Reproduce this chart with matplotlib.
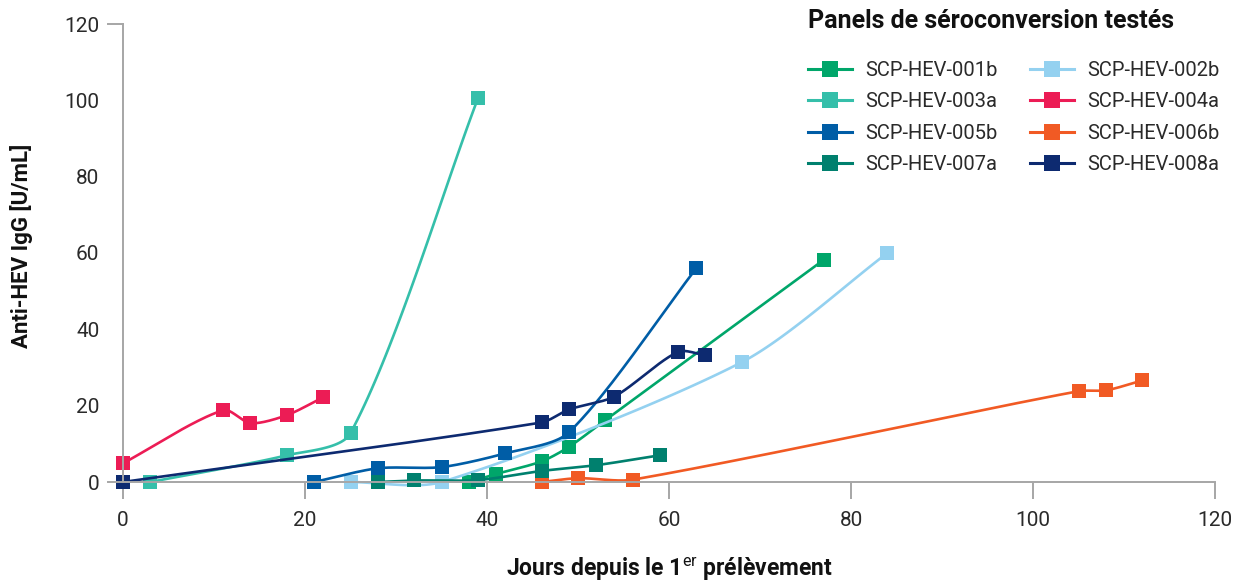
import numpy as np
import matplotlib
matplotlib.use("Agg")
import matplotlib.pyplot as plt
from matplotlib.lines import Line2D

plt.rcParams['font.family'] = ['Roboto', 'DejaVu Sans']
plt.rcParams['mathtext.fontset'] = 'custom'
plt.rcParams['mathtext.bf'] = 'Roboto:bold'
plt.rcParams['mathtext.rm'] = 'Roboto'

names = ['SCP-HEV-001b', 'SCP-HEV-002b', 'SCP-HEV-003a', 'SCP-HEV-004a',
         'SCP-HEV-005b', 'SCP-HEV-006b', 'SCP-HEV-007a', 'SCP-HEV-008a']
colors = ['#00A66A', '#94D1F0', '#35BFAA', '#EC1C55',
          '#005DA6', '#F15A24', '#00806E', '#0D2A70']

days_001b = [38, 41, 46, 49, 53, 77]
igg_001b = [0, 2.1, 5.4, 9.2, 16.2, 58.2]
days_002b = [25, 35, 68, 84]
igg_002b = [0, 0, 31.4, 60]
days_003a = [3, 18, 25, 39]
igg_003a = [0, 7.0, 12.8, 100.5]
days_004a = [0, 11, 14, 18, 22]
igg_004a = [4.9, 18.8, 15.4, 17.5, 22.2]
days_005b = [21, 28, 35, 42, 49, 63]
igg_005b = [0, 3.6, 3.9, 7.5, 13.0, 56.0]
days_006b = [46, 50, 56, 105, 108, 112]
igg_006b = [0, 1.0, 0.6, 23.8, 24.0, 26.6]
days_007a = [28, 32, 39, 46, 52, 59]
igg_007a = [0, 0.4, 0.5, 2.9, 4.4, 7.0]
days_008a = [0, 46, 49, 54, 61, 64]
igg_008a = [0, 15.6, 19.0, 22.4, 34.1, 33.2]

series = [(days_001b, igg_001b), (days_002b, igg_002b), (days_003a, igg_003a),
          (days_004a, igg_004a), (days_005b, igg_005b), (days_006b, igg_006b),
          (days_007a, igg_007a), (days_008a, igg_008a)]

# px per data unit, used so the smoothing behaves like it does on screen
SX, SY = 9.1, 3.817


def smooth(xs, ys, k=0.27, n=40):
    pts = np.column_stack([np.array(xs) * SX, np.array(ys) * SY]).astype(float)
    out = []
    for i in range(len(pts) - 1):
        p0 = pts[i - 1] if i > 0 else pts[i]
        p1 = pts[i]
        p2 = pts[i + 1]
        p3 = pts[i + 2] if i + 2 < len(pts) else pts[i + 1]
        L = np.hypot(*(p2 - p1))
        d1 = (p2 - p0) / np.hypot(*(p2 - p0))
        d2 = (p3 - p1) / np.hypot(*(p3 - p1))
        c1 = p1 + d1 * L * k
        c2 = p2 - d2 * L * k
        t = np.linspace(0, 1, n)[:, None]
        out.append((1 - t)**3 * p1 + 3 * (1 - t)**2 * t * c1 + 3 * (1 - t) * t**2 * c2 + t**3 * p2)
    sm = np.vstack(out)
    return sm[:, 0] / SX, sm[:, 1] / SY


grey = '#A6A6A6'
txt = '#2a2a2a'
dark = '#111111'

fig = plt.figure(figsize=(12.42, 5.82), dpi=100)
ax = fig.add_axes([108 / 1242, 100 / 582, 1107 / 1242, 458 / 582])

for (xs, ys), c in zip(series, colors):
    sx, sy = smooth(xs, ys)
    ax.plot(sx, sy, color=c, lw=1.9, clip_on=False, solid_capstyle='round')
    ax.plot(xs, ys, ls='none', marker='s', ms=9.5, mew=0, color=c, clip_on=False)

ax.set_xlim(-1.65, 120)
ax.set_ylim(0, 120)
ax.spines['top'].set_visible(False)
ax.spines['right'].set_visible(False)
ax.spines['left'].set_position(('data', 0))
for s in ['left', 'bottom']:
    ax.spines[s].set_color(grey)
    ax.spines[s].set_linewidth(1.4)
ax.set_xticks(range(0, 121, 20))
ax.set_yticks(range(0, 121, 20))
ax.tick_params(axis='x', direction='out', length=12, width=1.4, color=grey, pad=9,
               labelsize=15, labelcolor=txt)
ax.tick_params(axis='y', length=0, pad=17, labelsize=15, labelcolor=txt)
ax.plot([-1.65, 0], [120, 120], color=grey, lw=1.4, clip_on=False)

fig.text(22 / 1242, 1 - 246 / 582, 'Anti-HEV IgG [U/mL]', rotation=90, ha='center', va='center',
         fontsize=16, fontweight='bold', color=dark)
fig.text(669 / 1242, 1 - 569 / 582, r'Jours depuis le 1$^{\mathrm{er}}$ prélèvement',
         ha='center', va='center', fontsize=16.5, fontweight='bold', color=dark)
fig.text(808 / 1242, 1 - 21 / 582, 'Panels de séroconversion testés', ha='left', va='center',
         fontsize=18, fontweight='bold', color=dark)

handles = [Line2D([], [], color=c, lw=2.2, marker='s', ms=11, mew=0) for c in colors]
for col, x0 in [(0, 808), (1, 1030)]:
    idx = [col + 2 * r for r in range(4)]
    leg = fig.legend([handles[i] for i in idx], [names[i] for i in idx], loc='upper left',
                     bbox_to_anchor=(x0 / 1242, 1 - 61 / 582), frameon=False, borderpad=0,
                     borderaxespad=0, handlelength=2.2, handletextpad=0.65, labelspacing=0.62,
                     fontsize=14.5, labelcolor=txt)

plt.savefig('out.png', dpi=100)
